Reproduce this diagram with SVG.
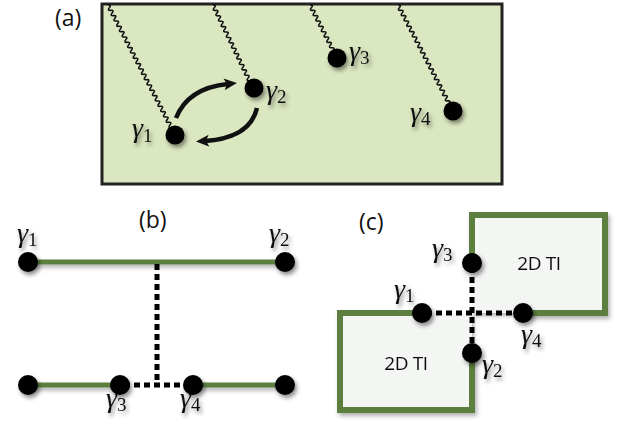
<svg xmlns="http://www.w3.org/2000/svg" width="628" height="426" viewBox="0 0 628 426">
<style>
.lbl{font-family:"Open Sans","Liberation Sans",sans-serif;font-size:23px;fill:#111}
.g{font-family:"Liberation Serif","DejaVu Serif",serif;font-style:italic;font-size:28px;fill:#111}
.sub{font-size:19px;font-style:normal}
.ti{font-family:"Open Sans","Liberation Sans",sans-serif;font-size:19px;fill:#111;letter-spacing:-0.4px}
.dot{fill:#000}
.wave{fill:none;stroke:#111;stroke-width:1.6}
.green{fill:none;stroke:#5b7f3f;stroke-width:5}
.sq{fill:none;stroke:#5b7f3f;stroke-width:6;stroke-linejoin:miter}
.dash{fill:none;stroke:#000;stroke-width:5;stroke-dasharray:6 4}
.arr{fill:none;stroke:#111;stroke-width:4.5}
</style>
<defs>
<filter id="sh" x="-50%" y="-50%" width="200%" height="200%">
<feDropShadow dx="2" dy="3" stdDeviation="2" flood-color="#000" flood-opacity="0.45"/>
</filter>
<filter id="shl" x="-50%" y="-50%" width="200%" height="200%">
<feDropShadow dx="2" dy="3" stdDeviation="2" flood-color="#000" flood-opacity="0.3"/>
</filter>
<marker id="ah" markerWidth="14" markerHeight="14" refX="4" refY="7" orient="auto" markerUnits="userSpaceOnUse">
<path d="M0,1 L13,7 L0,13 L3,7 Z" fill="#111"/>
</marker>
</defs>

<!-- panel (a) -->
<g id="panel-a">
<text class="lbl" x="55" y="26">(a)</text>
<rect x="102" y="4" width="400" height="180" fill="#dbe7c1" stroke="#222" stroke-width="3"/>
</g>
<g id="connectors">
<path class="wave" transform="translate(108,5) rotate(62.7)" d="M0,0 q1.5,-3.6 3,0 t3,0 t3,0 t3,0 t3,0 t3,0 t3,0 t3,0 t3,0 t3,0 t3,0 t3,0 t3,0 t3,0 t3,0 t3,0 t3,0 t3,0 t3,0 t3,0 t3,0 t3,0 t3,0 t3,0 t3,0 t3,0 t3,0 t3,0 t3,0 t3,0 t3,0 t3,0 t3,0 t3,0 t3,0 t3,0 t3,0 t3,0 t3,0 t3,0 t3,0 t3,0 t3,0 t3,0 t3,0 t3,0 t3,0 t3,0 t3,0"/>
<path class="wave" transform="translate(213,5) rotate(64.3)" d="M0,0 q1.5,-3.6 3,0 t3,0 t3,0 t3,0 t3,0 t3,0 t3,0 t3,0 t3,0 t3,0 t3,0 t3,0 t3,0 t3,0 t3,0 t3,0 t3,0 t3,0 t3,0 t3,0 t3,0 t3,0 t3,0 t3,0 t3,0 t3,0 t3,0 t3,0 t3,0 t3,0 t3,0"/>
<path class="wave" transform="translate(310,5) rotate(63)" d="M0,0 q1.5,-3.6 3,0 t3,0 t3,0 t3,0 t3,0 t3,0 t3,0 t3,0 t3,0 t3,0 t3,0 t3,0 t3,0 t3,0 t3,0 t3,0 t3,0 t3,0 t3,0 t3,0"/>
<path class="wave" transform="translate(398,5) rotate(62.6)" d="M0,0 q1.5,-3.6 3,0 t3,0 t3,0 t3,0 t3,0 t3,0 t3,0 t3,0 t3,0 t3,0 t3,0 t3,0 t3,0 t3,0 t3,0 t3,0 t3,0 t3,0 t3,0 t3,0 t3,0 t3,0 t3,0 t3,0 t3,0 t3,0 t3,0 t3,0 t3,0 t3,0 t3,0 t3,0 t3,0 t3,0 t3,0 t3,0 t3,0 t3,0 t3,0 t3,0"/>
<path class="arr" d="M176,118 Q188,88 228,84" marker-end="url(#ah)"/>
<path class="arr" d="M257,108 Q250,138 205,141" marker-end="url(#ah)"/>
</g>
<g id="a-g1" filter="url(#sh)"><circle class="dot" cx="175" cy="135" r="9.5"/><text class="g" x="132" y="137">γ<tspan class="sub" dy="5">1</tspan></text></g>
<g id="a-g2" filter="url(#sh)"><circle class="dot" cx="254" cy="88" r="9.5"/><text class="g" x="266" y="99">γ<tspan class="sub" dy="4">2</tspan></text></g>
<g id="a-g3" filter="url(#sh)"><circle class="dot" cx="337" cy="58" r="9.5"/><text class="g" x="349" y="60">γ<tspan class="sub" dy="4">3</tspan></text></g>
<g id="a-g4" filter="url(#sh)"><circle class="dot" cx="453" cy="111" r="9.5"/><text class="g" x="410" y="121">γ<tspan class="sub" dy="4">4</tspan></text></g>

<!-- panel (b) -->
<g id="panel-b">
<text class="lbl" x="139" y="228">(b)</text>
<g filter="url(#shl)">
<line class="green" x1="28" y1="262" x2="285" y2="262"/>
<line class="green" x1="28" y1="385" x2="120" y2="385"/>
<line class="green" x1="193" y1="385" x2="285" y2="385"/>
</g>
<path class="dash" d="M157,264 V385 M124,385 H190"/>
</g>
<g id="b-g1" filter="url(#sh)"><circle class="dot" cx="28" cy="262" r="10"/><text class="g" x="17" y="242">γ<tspan class="sub" dy="4">1</tspan></text></g>
<g id="b-g2" filter="url(#sh)"><circle class="dot" cx="285" cy="262" r="10"/><text class="g" x="269" y="242">γ<tspan class="sub" dy="4">2</tspan></text></g>
<g id="b-n5" filter="url(#sh)"><circle class="dot" cx="28" cy="385" r="10"/></g>
<g id="b-g3" filter="url(#sh)"><circle class="dot" cx="120" cy="385" r="10"/><text class="g" x="106" y="407">γ<tspan class="sub" dy="4">3</tspan></text></g>
<g id="b-g4" filter="url(#sh)"><circle class="dot" cx="193" cy="385" r="10"/><text class="g" x="180" y="407">γ<tspan class="sub" dy="4">4</tspan></text></g>
<g id="b-n8" filter="url(#sh)"><circle class="dot" cx="285" cy="385" r="10"/></g>

<!-- panel (c) -->
<text class="lbl" x="359" y="230">(c)</text>
<g id="ti-top" filter="url(#shl)">
<rect x="472" y="215" width="133" height="98" fill="#f4f6f4"/>
<path class="sq" d="M472,263 V215 H605 V313 H523"/>
<text class="ti" x="539" y="270" text-anchor="middle">2D TI</text>
</g>
<g id="ti-bottom" filter="url(#shl)">
<rect x="340" y="313" width="132" height="97" fill="#f4f6f4"/>
<path class="sq" d="M422,313 H340 V410 H472 V353"/>
<text class="ti" x="406" y="370" text-anchor="middle">2D TI</text>
</g>
<path class="dash" d="M472,267 V350 M426,313 H519"/>
<g id="c-g3" filter="url(#sh)"><circle class="dot" cx="472" cy="263" r="10"/><text class="g" x="432" y="257">γ<tspan class="sub" dy="4">3</tspan></text></g>
<g id="c-g1" filter="url(#sh)"><circle class="dot" cx="422" cy="313" r="10"/><text class="g" x="394" y="298">γ<tspan class="sub" dy="4">1</tspan></text></g>
<g id="c-g4" filter="url(#sh)"><circle class="dot" cx="523" cy="313" r="10"/><text class="g" x="521" y="343">γ<tspan class="sub" dy="4">4</tspan></text></g>
<g id="c-g2" filter="url(#sh)"><circle class="dot" cx="472" cy="353" r="10"/><text class="g" x="482" y="373">γ<tspan class="sub" dy="4">2</tspan></text></g>
</svg>
